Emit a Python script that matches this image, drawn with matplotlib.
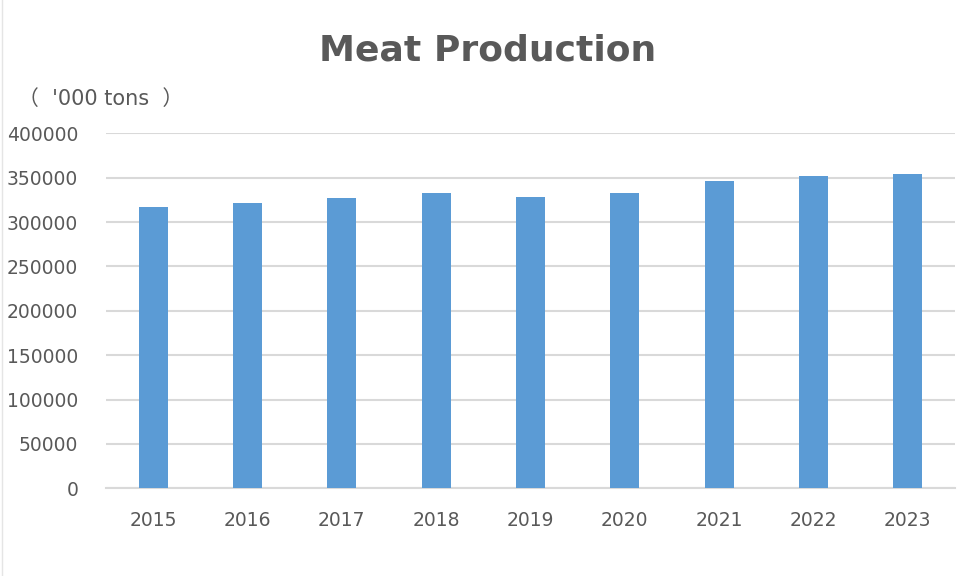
import matplotlib.pyplot as plt
import matplotlib.lines as mlines

years = ['2015', '2016', '2017', '2018', '2019', '2020', '2021', '2022', '2023']
production = [317300, 321100, 327400, 332400, 328600, 332400, 346300, 351900, 353800]
yticks = [0, 50000, 100000, 150000, 200000, 250000, 300000, 350000, 400000]

text_color = '#595959'
grid_color = '#D9D9D9'

fig = plt.figure(figsize=(9.74, 5.76), dpi=100)
ax = fig.add_axes([106 / 974, 1 - 488.3 / 576, 849 / 974, 355 / 576])

ax.bar(years, production, width=0.31, color='#5B9BD5', zorder=3)

ax.set_ylim(0, 400000)
ax.set_xlim(-0.5, len(years) - 0.5)
ax.set_yticks(yticks)
ax.set_yticklabels([str(v) for v in yticks])
ax.yaxis.grid(True, color=grid_color, linewidth=1.5, zorder=0)
ax.tick_params(axis='both', length=0, labelsize=13.5, labelcolor=text_color)
ax.tick_params(axis='y', pad=20)
ax.tick_params(axis='x', pad=16)
for s in ['top', 'right', 'left']:
    ax.spines[s].set_visible(False)
ax.spines['bottom'].set_color(grid_color)
ax.spines['bottom'].set_linewidth(1.5)

fig.text(0.501, 0.912, 'Meat Production', ha='center', va='center',
         fontsize=26, fontweight='bold', color=text_color)
fig.text(101 / 974, 1 - 99 / 576, "（  '000 tons  ）", ha='center', va='center',
         fontsize=15, color=text_color,
         family=['DejaVu Sans', 'Noto Sans CJK SC'])

# faint chart border on the left edge
fig.add_artist(mlines.Line2D([0.002, 0.002], [0, 1], color='#E5E5E5', linewidth=1))

fig.savefig('out.png', dpi=100)
